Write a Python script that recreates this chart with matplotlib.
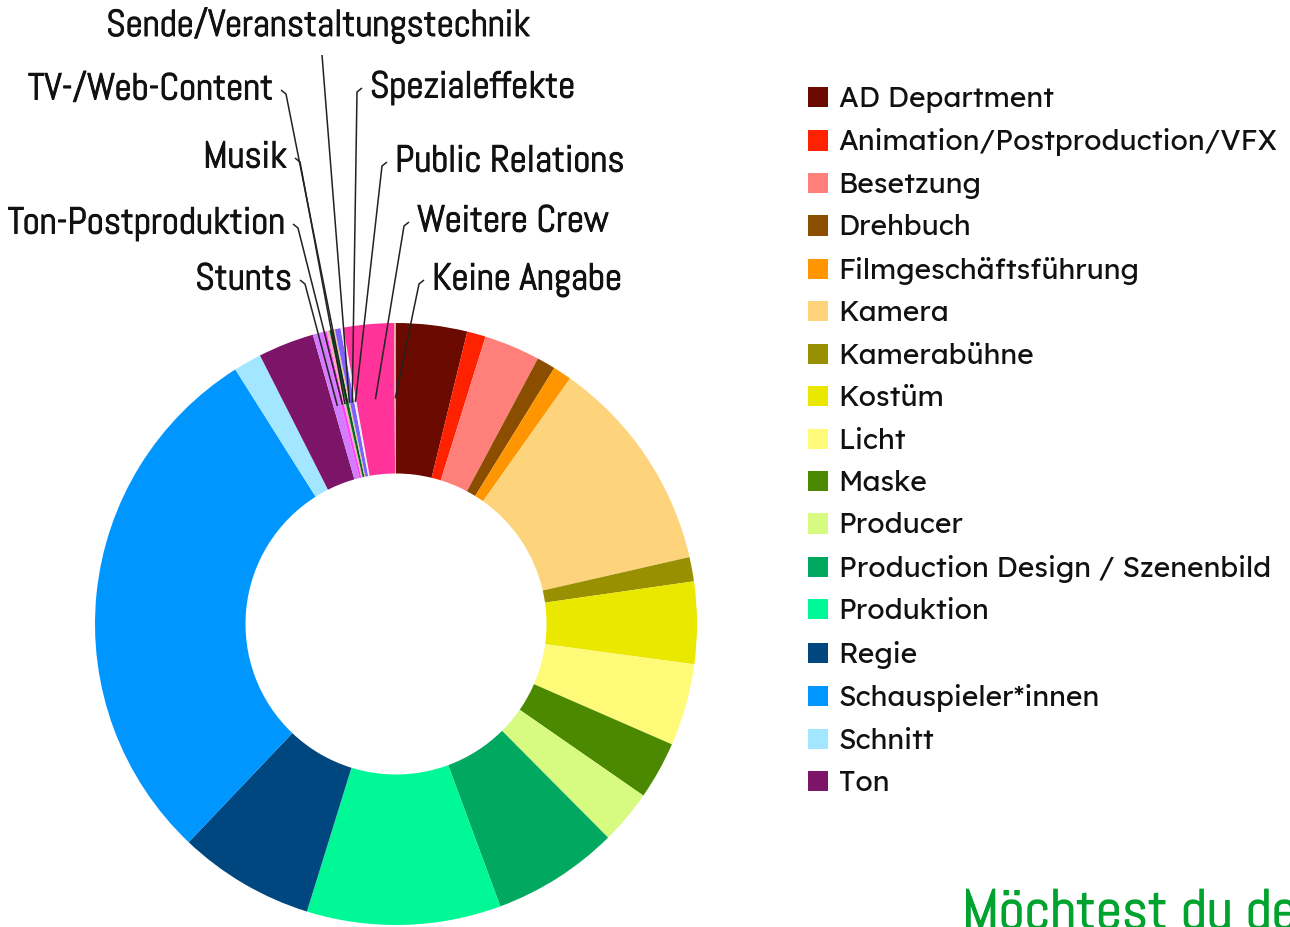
import numpy as np
import matplotlib
matplotlib.use("Agg")
import matplotlib.pyplot as plt
import matplotlib.patheffects as pe
from matplotlib import font_manager

categories = ["AD Department", "Animation/Postproduction/VFX", "Besetzung",
              "Drehbuch", "Filmgeschäftsführung", "Kamera", "Kamerabühne",
              "Kostüm", "Licht", "Maske", "Producer",
              "Production Design / Szenenbild", "Produktion", "Regie",
              "Schauspieler*innen", "Schnitt", "Ton",
              "Stunts", "Ton-Postproduktion", "Musik", "TV-/Web-Content",
              "Sende/Veranstaltungstechnik", "Spezialeffekte",
              "Public Relations", "Weitere Crew", "Keine Angabe"]
shares = [3.8, 1.0, 3.0, 1.0, 1.0, 11.6, 1.3, 4.4, 4.4, 3.1, 2.9, 6.8, 10.4,
          7.3, 28.9, 1.5, 3.0,
          0.55, 0.2, 0.15, 0.2, 0.1, 0.3, 0.15, 2.7, 0.1]
colors = ["#6b0a00", "#ff2200", "#ff7f7a", "#8b4e00", "#ff9500", "#fdd37c",
          "#989000", "#ebe800", "#fffa78", "#4b8a00", "#d6fb80", "#00a860",
          "#00f896", "#00477f", "#0096ff", "#a3e6ff", "#7c1567",
          "#d47cff", "#ff40ff", "#ffaabb", "#006b20", "#e8c8a0", "#8060ff",
          "#f0f0ff", "#ff3399", "#e8a0a8"]
n_legend = 17

W, H = 1290, 927
cx, cy, R = 396, 624, 301


def px(x, y):
    # pixel position -> data units (radius = 1)
    return (x - cx) / R, (cy - y) / R


def pick_font(cands):
    names = {f.name for f in font_manager.fontManager.ttflist}
    for c in cands:
        if c in names:
            return c
    return "DejaVu Sans"


# label text anchor (pixels), side
label_pos = {
    "Stunts": (292, 280, "right"),
    "Ton-Postproduktion": (285, 224, "right"),
    "Musik": (287, 158, "right"),
    "TV-/Web-Content": (273, 90, "right"),
    "Sende/Veranstaltungstechnik": (318, 25, "center"),
    "Spezialeffekte": (370, 88, "left"),
    "Public Relations": (395, 162, "left"),
    "Weitere Crew": (417, 222, "left"),
    "Keine Angabe": (432, 280, "left"),
}

label_font = pick_font(["Abel", "Roboto Condensed"])
legend_font = pick_font(["Lexend Light", "Lexend", "DejaVu Sans"])
bold_fx = [pe.withStroke(linewidth=0.7, foreground="#111111")]

fig = plt.figure(figsize=(W / 100, H / 100), dpi=100)
ax = fig.add_axes([0, 0, 1, 1])
wedges, _ = ax.pie(shares, colors=colors, startangle=90, counterclock=False,
                   radius=1.0, wedgeprops=dict(width=0.5, linewidth=0))
ax.set_xlim(-cx / R, (W - cx) / R)
ax.set_ylim(-(H - cy) / R, cy / R)
ax.set_aspect("equal")
ax.axis("off")

for w, name in zip(wedges, categories):
    if name not in label_pos:
        continue
    tx, ty, side = label_pos[name]
    mid = np.deg2rad((w.theta1 + w.theta2) / 2)
    tgt = (0.75 * np.cos(mid), 0.75 * np.sin(mid))
    x0, y0 = px(tx, ty)
    ax.text(x0, y0, name, ha=side, va="center", color="#111111",
            family=label_font, fontsize=27, path_effects=bold_fx)
    if side == "right":
        p1 = px(tx + 8, ty)
        p2 = px(tx + 13, ty + 4)
    elif side == "left":
        p1 = px(tx - 8, ty)
        p2 = px(tx - 13, ty + 4)
    else:
        p1 = px(tx + 4, ty + 30)
        p2 = p1
    ax.plot([p1[0], p2[0], tgt[0]], [p1[1], p2[1], tgt[1]],
            color="#222222", lw=1.1, solid_capstyle="butt")

leg = fig.legend(wedges[:n_legend], categories[:n_legend], loc="upper left",
                 bbox_to_anchor=(808 / W, 1 - 86 / H), frameon=False,
                 prop=dict(family=legend_font, size=20.4, weight="light"),
                 handlelength=0.72, handleheight=0.72, handletextpad=0.36,
                 labelspacing=0.545, borderpad=0, borderaxespad=0)
for t in leg.get_texts():
    t.set_color("#111111")

fig.text(962 / W, 1 - 889 / H, "Möchtest du de", color="#00a32e",
         family=label_font, fontsize=41, ha="left", va="top",
         path_effects=[pe.withStroke(linewidth=0.8, foreground="#00a32e")])

fig.savefig("out.png", dpi=100)
